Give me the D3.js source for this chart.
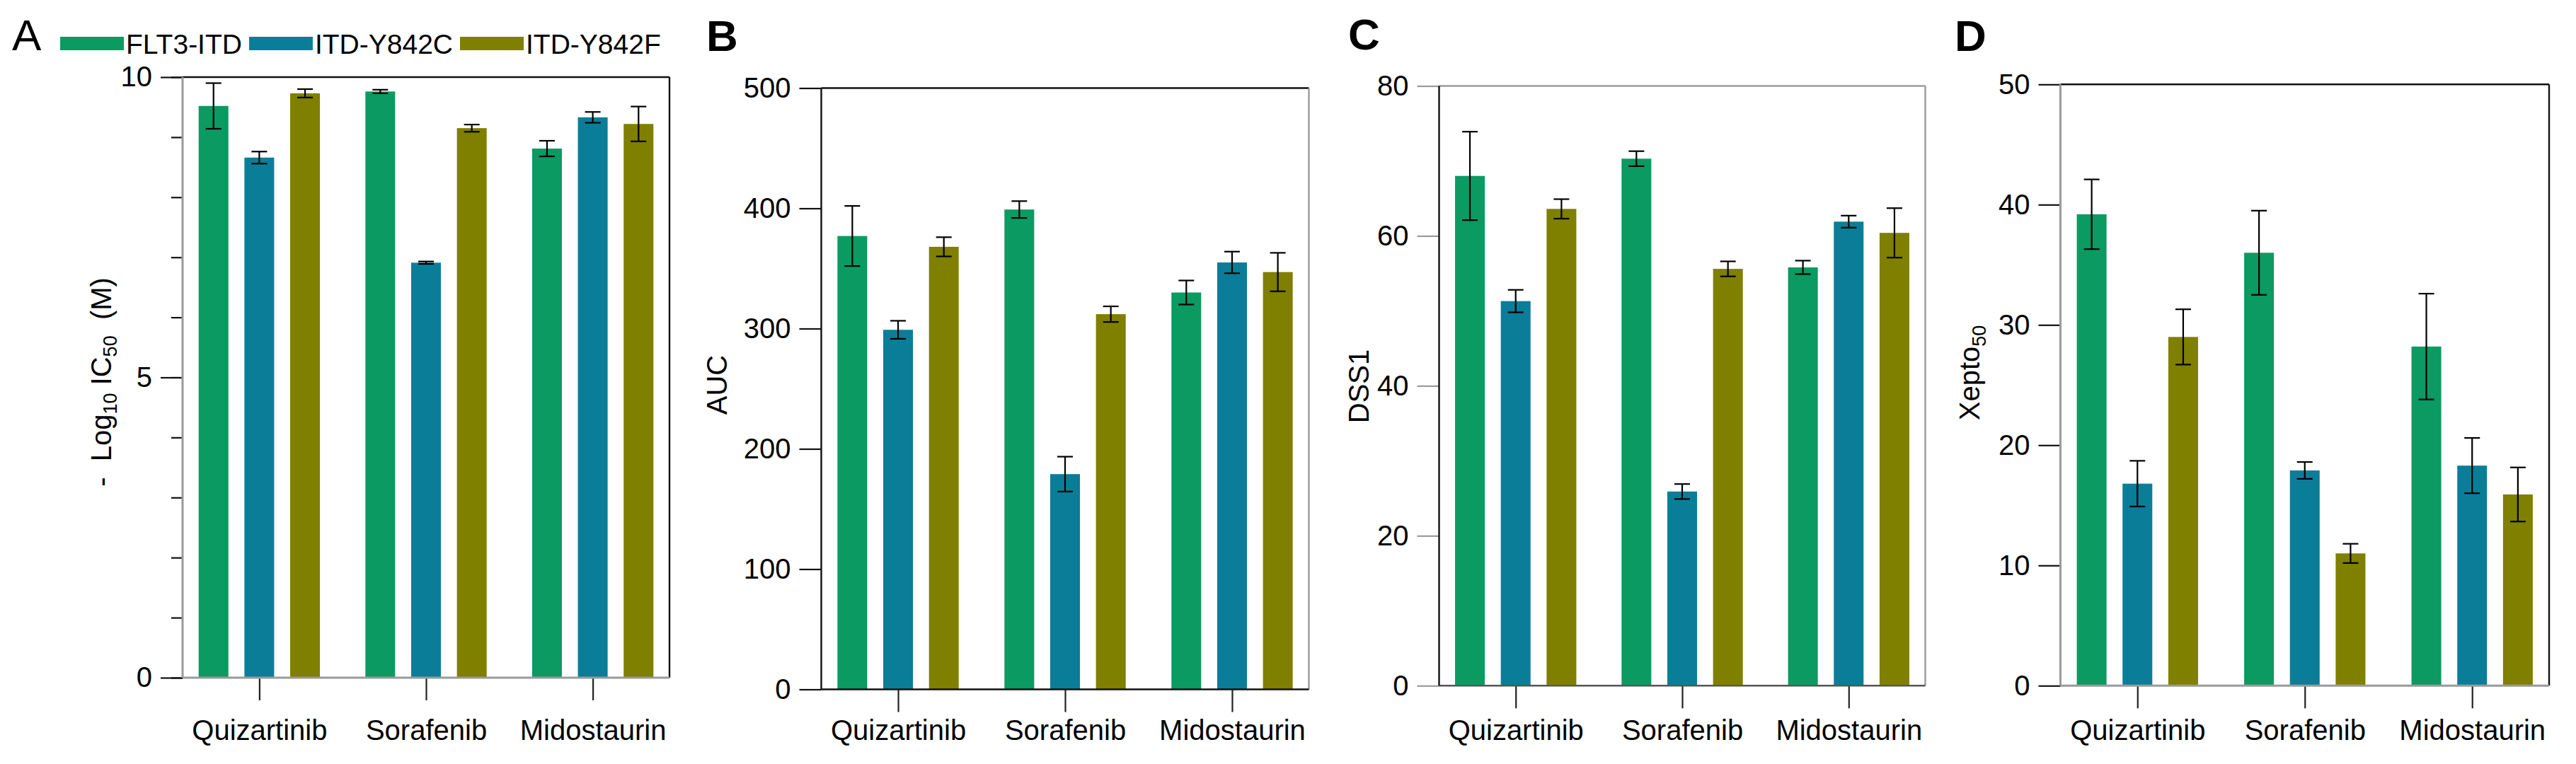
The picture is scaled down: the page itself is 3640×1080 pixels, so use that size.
<!DOCTYPE html>
<html>
<head>
<meta charset="utf-8">
<script src="https://cdn.jsdelivr.net/npm/d3@7"></script>
<style>
  html, body { margin: 0; padding: 0; background: #fff; }
  svg text { font-family: "Liberation Sans", Arial, sans-serif; }
</style>
</head>
<body>
<svg id="chart" width="3640" height="1080"></svg>
<script>
// ---------- data ----------
const categories = ["Quizartinib", "Sorafenib", "Midostaurin"];
const seriesNames = ["FLT3-ITD", "ITD-Y842C", "ITD-Y842F"];
const seriesColors = ["#0b9a62", "#0a7e98", "#7f7f00"];

// Panel A: -Log10 IC50 (M)
const aFLT3 = [9.52, 9.76, 8.81];
const aY842C = [8.66, 6.91, 9.33];
const aY842F = [9.73, 9.15, 9.22];
const aFLT3Err = [0.38, 0.03, 0.13];
const aY842CErr = [0.10, 0.02, 0.09];
const aY842FErr = [0.07, 0.06, 0.29];
const aTicksMajor = [0, 5, 10];
const aTicksMinor = [0, 1, 2, 3, 4, 5, 6, 7, 8, 9, 10];

// Panel B: AUC
const bFLT3 = [377, 399, 330];
const bY842C = [299, 179, 355];
const bY842F = [368, 312, 347];
const bFLT3Err = [25, 7, 10];
const bY842CErr = [7.5, 14.5, 9];
const bY842FErr = [8, 6.5, 16];
const bTicks = [0, 100, 200, 300, 400, 500];

// Panel C: DSS1
const cFLT3 = [68.0, 70.3, 55.8];
const cY842C = [51.3, 25.9, 61.9];
const cY842F = [63.6, 55.6, 60.4];
const cFLT3Err = [5.9, 1.0, 0.9];
const cY842CErr = [1.5, 1.0, 0.8];
const cY842FErr = [1.3, 1.0, 3.3];
const cTicks = [0, 20, 40, 60, 80];

// Panel D: Xepto50
const dFLT3 = [39.2, 36.0, 28.2];
const dY842C = [16.8, 17.9, 18.3];
const dY842F = [29.0, 11.0, 15.9];
const dFLT3Err = [2.9, 3.5, 4.4];
const dY842CErr = [1.9, 0.7, 2.3];
const dY842FErr = [2.3, 0.8, 2.25];
const dTicks = [0, 10, 20, 30, 40, 50];

// ---------- layout ----------
const BLACK = "#111", GRAY = "#9a9a9a";
const svg = d3.select("#chart");
svg.append("rect").attr("width", 3640).attr("height", 1080).attr("fill", "#fff");

const panels = [
  { letter: "A", lx: 17, ly: 71, bold: false, L: 258, R: 946, top: 109, bottom: 958, max: 10,
    values: [aFLT3, aY842C, aY842F], errs: [aFLT3Err, aY842CErr, aY842FErr],
    ticks: aTicksMajor, minor: aTicksMinor, tickColor: BLACK,
    border: { left: GRAY, bottom: GRAY, top: BLACK, right: BLACK },
    title: "A", tx: 157, ty: 540 },
  { letter: "B", lx: 998, ly: 72, bold: true, L: 1160.5, R: 1849.5, top: 124.5, bottom: 974.5, max: 500,
    values: [bFLT3, bY842C, bY842F], errs: [bFLT3Err, bY842CErr, bY842FErr],
    ticks: bTicks, tickColor: BLACK,
    border: { left: BLACK, bottom: BLACK, top: BLACK, right: GRAY },
    title: "AUC", tx: 1027, ty: 544 },
  { letter: "C", lx: 1905, ly: 70, bold: true, L: 2033.5, R: 2720.5, top: 121.5, bottom: 969.3, max: 80,
    values: [cFLT3, cY842C, cY842F], errs: [cFLT3Err, cY842CErr, cY842FErr],
    ticks: cTicks, tickColor: GRAY,
    border: { left: BLACK, bottom: "#555", top: GRAY, right: GRAY },
    title: "DSS1", tx: 1934, ty: 546 },
  { letter: "D", lx: 2762, ly: 72, bold: true, L: 2911.5, R: 3602, top: 119.3, bottom: 969.3, max: 50,
    values: [dFLT3, dY842C, dY842F], errs: [dFLT3Err, dY842CErr, dY842FErr],
    ticks: dTicks, tickColor: BLACK,
    border: { left: GRAY, bottom: GRAY, top: BLACK, right: BLACK },
    title: "Xepto", tx: 2797, ty: 527 }
];

function drawPanel(p) {
  const g = svg.append("g");
  const x0 = d3.scalePoint().domain(categories).range([p.L, p.R]).padding(0.46);
  const x1 = d3.scaleBand().domain(seriesNames).range([-97, 97]).paddingInner(0.35).paddingOuter(0.175);
  const y = d3.scaleLinear().domain([0, p.max]).range([p.bottom, p.top]);

  // bars
  seriesNames.forEach((s, si) => {
    const rows = categories.map((c, ci) => ({ c, v: p.values[si][ci], e: p.errs[si][ci] }));
    g.append("g").selectAll("rect").data(rows).join("rect")
      .attr("x", d => x0(d.c) + x1(s))
      .attr("width", x1.bandwidth())
      .attr("y", d => y(d.v))
      .attr("height", d => y(0) - y(d.v))
      .attr("fill", seriesColors[si]);
    // error bars
    const eg = g.append("g").attr("stroke", "#000").attr("stroke-width", 2.2);
    const cx = d => x0(d.c) + x1(s) + x1.bandwidth() / 2;
    const cap = 11;
    eg.selectAll("line.v").data(rows).join("line").attr("class", "v")
      .attr("x1", cx).attr("x2", cx)
      .attr("y1", d => y(d.v + d.e)).attr("y2", d => y(d.v - d.e));
    eg.selectAll("line.t").data(rows).join("line").attr("class", "t")
      .attr("x1", d => cx(d) - cap).attr("x2", d => cx(d) + cap)
      .attr("y1", d => y(d.v + d.e)).attr("y2", d => y(d.v + d.e));
    eg.selectAll("line.b").data(rows).join("line").attr("class", "b")
      .attr("x1", d => cx(d) - cap).attr("x2", d => cx(d) + cap)
      .attr("y1", d => y(d.v - d.e)).attr("y2", d => y(d.v - d.e));
  });

  // y axis
  if (p.minor) {
    const minorAx = g.append("g").attr("transform", `translate(${p.L},0)`)
      .call(d3.axisLeft(y).tickValues(p.minor).tickSize(16).tickFormat(""));
    minorAx.select(".domain").remove();
    minorAx.selectAll(".tick line").attr("stroke", p.tickColor).attr("stroke-width", 2.2);
  }
  const yAx = g.append("g").attr("transform", `translate(${p.L},0)`)
    .call(d3.axisLeft(y).tickValues(p.ticks).tickSize(31).tickPadding(12).tickFormat(d3.format("d")));
  yAx.select(".domain").remove();
  yAx.selectAll(".tick line").attr("stroke", p.tickColor).attr("stroke-width", 2.2);
  yAx.selectAll(".tick text").attr("font-size", 40).attr("fill", "#000")
    .attr("font-family", "'Liberation Sans', Arial, sans-serif");

  // x axis
  const xAx = g.append("g").attr("transform", `translate(0,${p.bottom})`)
    .call(d3.axisBottom(x0).tickSize(32).tickSizeOuter(0));
  xAx.select(".domain").remove();
  xAx.selectAll(".tick line").attr("stroke", "#222").attr("stroke-width", 2.2);
  xAx.selectAll(".tick text").attr("font-size", 40).attr("fill", "#000")
    .attr("font-family", "'Liberation Sans', Arial, sans-serif")
    .attr("y", 1046 - p.bottom).attr("dy", 0);

  // frame
  const fw = 2.4;
  g.append("line").attr("x1", p.L).attr("x2", p.R).attr("y1", p.top).attr("y2", p.top)
    .attr("stroke", p.border.top).attr("stroke-width", fw);
  g.append("line").attr("x1", p.R).attr("x2", p.R).attr("y1", p.top).attr("y2", p.bottom)
    .attr("stroke", p.border.right).attr("stroke-width", fw);
  g.append("line").attr("x1", p.L).attr("x2", p.R).attr("y1", p.bottom).attr("y2", p.bottom)
    .attr("stroke", p.border.bottom).attr("stroke-width", p.border.bottom === GRAY ? 3 : fw);
  g.append("line").attr("x1", p.L).attr("x2", p.L).attr("y1", p.top).attr("y2", p.bottom)
    .attr("stroke", p.border.left).attr("stroke-width", p.border.left === GRAY ? 3 : fw);

  // panel letter
  svg.append("text").attr("x", p.lx).attr("y", p.ly)
    .attr("font-size", 62).attr("font-weight", p.bold ? "bold" : "normal").attr("fill", "#000")
    .text(p.letter);

  // y title
  const t = svg.append("text")
    .attr("transform", `translate(${p.tx},${p.ty}) rotate(-90)`)
    .attr("text-anchor", "middle").attr("font-size", 40).attr("fill", "#000")
    .style("white-space", "pre");
  if (p.letter === "A") {
    t.append("tspan").text("-  Log");
    t.append("tspan").attr("font-size", 27).attr("dy", 8).text("10");
    t.append("tspan").attr("dy", -8).text(" IC");
    t.append("tspan").attr("font-size", 27).attr("dy", 8).text("50");
    t.append("tspan").attr("dy", -8).text("  (M)");
  } else if (p.letter === "D") {
    t.append("tspan").text("Xepto");
    t.append("tspan").attr("font-size", 27).attr("dy", 9).text("50");
  } else {
    t.text(p.title);
  }
}

panels.forEach(drawPanel);

// legend
const legend = svg.append("g");
let lx = 85;
seriesNames.forEach((s, i) => {
  legend.append("rect").attr("x", lx).attr("y", 52).attr("width", 90).attr("height", 19)
    .attr("fill", seriesColors[i]);
  const tx = legend.append("text").attr("x", lx + 93).attr("y", 76)
    .attr("font-size", 39).attr("fill", "#000").text(s);
  lx = lx + 93 + tx.node().getComputedTextLength() + 10;
});
</script>
</body>
</html>
